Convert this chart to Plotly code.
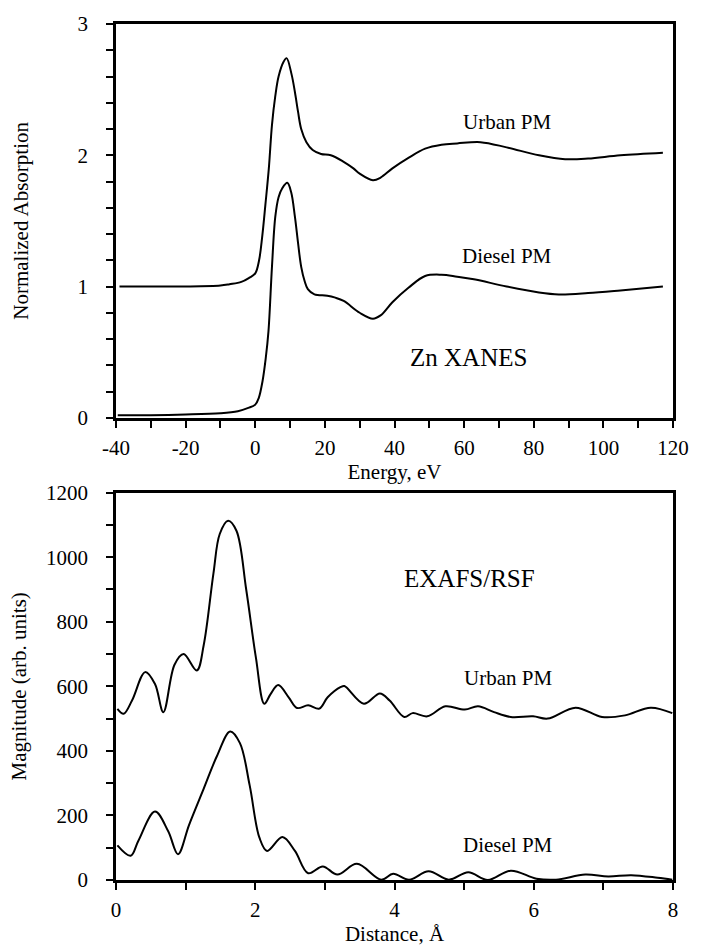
import plotly.graph_objects as go
from plotly.subplots import make_subplots

# ---- Top panel: Zn XANES ----
urban_xanes_e = [-39, -30, -20, -10, -7.4, -4, -1.7, 0, 1.1, 2.0, 2.9, 3.9, 4.8, 5.75, 6.7, 8.1, 9.0,
                 10.4, 11.4, 12.3, 13.2, 14.7, 16.5, 18.9, 21.7, 25.4, 28.2, 30, 33.8, 36, 39.4,
                 44, 48.8, 53.5, 58, 64.7, 72.2, 81.5, 89, 95.6, 104.9, 117.1]
urban_xanes_y = [1.0, 1.0, 1.0, 1.007, 1.017, 1.035, 1.067, 1.10, 1.2, 1.38, 1.62, 1.90, 2.23, 2.45, 2.60,
                 2.71, 2.74, 2.62, 2.48, 2.33, 2.20, 2.10, 2.04, 2.01, 2.0, 1.95, 1.90, 1.86, 1.81, 1.83,
                 1.90, 1.98, 2.05, 2.08, 2.09, 2.10, 2.06, 2.0, 1.97, 1.975, 2.0, 2.02]

diesel_xanes_e = [-39.5, -30, -20, -10, -5, -2, 0, 1.0, 2.1, 3.0, 3.8, 4.8, 5.75, 6.7, 7.8, 9.2, 10.3, 11.4,
                  12.3, 13.2, 14.2, 15.1, 17, 20.7, 23, 25.4, 30, 33.8, 36, 39.4, 44, 48.8, 53.5, 58, 62.8,
                  72.2, 81.5, 87.2, 95.6, 104.9, 117.1]
diesel_xanes_y = [0.02, 0.02, 0.025, 0.035, 0.05, 0.075, 0.10, 0.15, 0.28, 0.45, 0.66, 1.15, 1.53, 1.68,
                  1.75, 1.79, 1.72, 1.53, 1.33, 1.15, 1.04, 0.98, 0.94, 0.93, 0.915, 0.89, 0.80, 0.755, 0.78,
                  0.88, 0.99, 1.08, 1.09, 1.075, 1.055, 1.0, 0.955, 0.94, 0.95, 0.97, 1.0]

energy_tickvals = [-40, -20, 0, 20, 40, 60, 80, 100, 120]
energy_ticktext = ["-40", "-20", "0", "20", "40", "60", "80", "100", "120"]

# ---- Bottom panel: EXAFS / RSF ----
urban_rsf_r = [0.02, 0.11, 0.23, 0.42, 0.56, 0.68, 0.84, 0.97, 1.16, 1.26, 1.40, 1.49, 1.61, 1.73, 1.87,
               2.01, 2.13, 2.22, 2.33, 2.48, 2.60, 2.76, 2.92, 3.04, 3.23, 3.28, 3.56, 3.79, 3.93, 4.14,
               4.26, 4.47, 4.73, 5.01, 5.20, 5.43, 5.67, 5.99, 6.20, 6.60, 6.98, 7.31, 7.68, 7.99]
urban_rsf_m = [530, 515, 556, 644, 607, 520, 667, 700, 649, 728, 951, 1072, 1113, 1082, 900,
               688, 546, 576, 604, 566, 533, 541, 531, 566, 598, 601, 546, 578, 556, 505,
               517, 507, 538, 528, 538, 520, 505, 507, 500, 534, 505, 510, 534, 517]

diesel_rsf_r = [0.02, 0.21, 0.32, 0.56, 0.75, 0.89, 1.05, 1.26, 1.45, 1.64, 1.78, 1.92, 2.06, 2.17, 2.39,
                2.57, 2.76, 2.97, 3.18, 3.46, 3.81, 3.98, 4.21, 4.49, 4.78, 5.06, 5.34, 5.67, 6.04, 6.32,
                6.74, 7.07, 7.40, 7.78, 7.99]
diesel_rsf_m = [107, 75, 121, 212, 151, 80, 171, 283, 384, 460, 424, 293, 131, 90, 133,
                90, 21, 42, 17, 50, 1, 19, 1, 27, 1, 24, 0, 29, 4, 1,
                17, 11, 15, 7, 1]

FONT = "Liberation Serif"
BLACK = "black"

fig = make_subplots(rows=2, cols=1)

line_style = dict(color=BLACK, width=2, shape="spline", smoothing=1.0)
fig.add_trace(go.Scatter(x=urban_xanes_e, y=urban_xanes_y, mode="lines", line=line_style,
                         name="Urban PM", showlegend=False), row=1, col=1)
fig.add_trace(go.Scatter(x=diesel_xanes_e, y=diesel_xanes_y, mode="lines", line=line_style,
                         name="Diesel PM", showlegend=False), row=1, col=1)
fig.add_trace(go.Scatter(x=urban_rsf_r, y=urban_rsf_m, mode="lines", line=line_style,
                         name="Urban PM", showlegend=False), row=2, col=1)
fig.add_trace(go.Scatter(x=diesel_rsf_r, y=diesel_rsf_m, mode="lines", line=line_style,
                         name="Diesel PM", showlegend=False), row=2, col=1)

tick_font = dict(family=FONT, size=21, color=BLACK)
title_font = dict(family=FONT, size=21, color=BLACK)
minor_common = dict(ticks="outside", ticklen=7, tickwidth=1.5, tickcolor=BLACK)

axis_common = dict(showline=True, linecolor=BLACK, linewidth=2.5, mirror=True, showgrid=False,
                   zeroline=False, ticks="outside", ticklen=7, tickwidth=1.5, tickcolor=BLACK,
                   tickfont=tick_font)

fig.update_xaxes(**axis_common)
fig.update_yaxes(**axis_common)

fig.update_xaxes(row=1, col=1, range=[-40, 120], tickmode="array", tickvals=energy_tickvals,
                 ticktext=energy_ticktext,
                 minor=dict(dtick=10, tick0=-40, **minor_common),
                 ticklabelstandoff=2,
                 title=dict(text="Energy, eV", font=title_font, standoff=0))
fig.update_yaxes(row=1, col=1, range=[0, 3], dtick=1, domain=[0.540, 1.0],
                 minor=dict(dtick=0.2, **minor_common),
                 ticklabelstandoff=14,
                 title=dict(text="Normalized Absorption", font=title_font, standoff=44))
fig.update_xaxes(row=2, col=1, range=[0, 8], dtick=2,
                 minor=dict(dtick=1, **minor_common),
                 ticklabelstandoff=2,
                 title=dict(text="Distance, Å", font=title_font, standoff=2))
fig.update_yaxes(row=2, col=1, range=[0, 1200], dtick=200, domain=[0, 0.4525],
                 minor=dict(dtick=100, **minor_common),
                 ticklabelstandoff=14,
                 title=dict(text="Magnitude (arb. units)", font=title_font, standoff=14))

ann_font = dict(family=FONT, size=21, color=BLACK)
big_font = dict(family=FONT, size=25, color=BLACK)
annotations = [
    dict(x=72.3, y=2.25, xref="x", yref="y", text="Urban PM", showarrow=False, font=ann_font),
    dict(x=72.3, y=1.23, xref="x", yref="y", text="Diesel PM", showarrow=False, font=ann_font),
    dict(x=61.3, y=0.46, xref="x", yref="y", text="Zn XANES", showarrow=False, font=big_font),
    dict(x=5.08, y=935, xref="x2", yref="y2", text="EXAFS/RSF", showarrow=False, font=big_font),
    dict(x=5.63, y=627, xref="x2", yref="y2", text="Urban PM", showarrow=False, font=ann_font),
    dict(x=5.63, y=107, xref="x2", yref="y2", text="Diesel PM", showarrow=False, font=ann_font),
]

fig.update_layout(
    width=701, height=951,
    margin=dict(l=116, r=14, t=20, b=58),
    paper_bgcolor="white", plot_bgcolor="white",
    font=dict(family=FONT, size=21, color=BLACK),
    annotations=annotations,
    showlegend=False,
)

fig.write_html("out.html")
